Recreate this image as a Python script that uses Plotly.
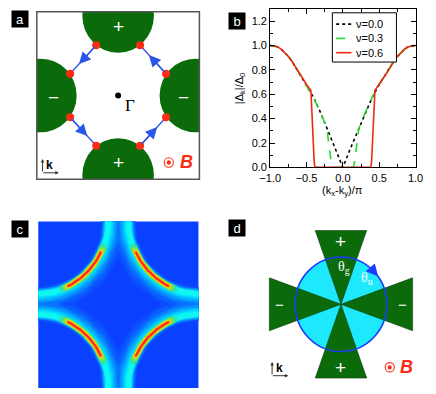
import numpy as np
import plotly.graph_objects as go

W, H = 436, 394


def px(x):
    return x / W


def py(y):
    return 1 - y / H


FONT = "Liberation Sans, Arial, sans-serif"
SERIF = "Liberation Serif, Times New Roman, serif"
GREEN = "#0b6b0b"
RED = "#ff2a14"
BLUE_ARROW = "#2a55e6"

# ---------------- panel a : gap signs on the Fermi pockets ----------------
pocket_cx = [0.0, 0.0, -0.95, 0.95]
pocket_cy = [0.95, -0.95, 0.0, 0.0]
pocket_r = 0.44
pocket_sign = ["+", "+", "\u2212", "\u2212"]
sign_x = [0.0, 0.0, -0.80, 0.81]
sign_y = [0.82, -0.80, -0.02, -0.02]
node_x = [-0.27, 0.27, -0.59, 0.59, -0.59, 0.59, -0.27, 0.27]
node_y = [0.60, 0.60, 0.26, 0.26, -0.26, -0.26, -0.60, -0.60]
flow_from = [0, 3, 4, 7]
flow_to = [2, 1, 6, 5]
gamma_x, gamma_y = [0.0], [0.0]

# ---------------- panel b : gap magnitude ----------------
nu0_x = [-1.0, -0.95, -0.9, -0.85, -0.8, -0.75, -0.7, -0.65, -0.6, -0.55, -0.5, -0.4, -0.3, -0.2, -0.1, 0.0,
         0.1, 0.2, 0.3, 0.4, 0.5, 0.55, 0.6, 0.65, 0.7, 0.75, 0.8, 0.85, 0.9, 0.95, 1.0]
nu0_y = [1.0, 0.997, 0.99, 0.97, 0.94, 0.91, 0.87, 0.82, 0.77, 0.73, 0.68, 0.57, 0.44, 0.29, 0.15, 0.0,
         0.15, 0.29, 0.44, 0.57, 0.68, 0.73, 0.77, 0.82, 0.87, 0.91, 0.94, 0.97, 0.99, 0.997, 1.0]
nu3_x = [-1.0, -0.95, -0.9, -0.85, -0.8, -0.75, -0.7, -0.65, -0.6, -0.55, -0.5, -0.4, -0.3, -0.22, -0.2, -0.18,
         -0.16, -0.145, 0.145, 0.16, 0.18, 0.2, 0.22, 0.3, 0.4, 0.5, 0.55, 0.6, 0.65, 0.7, 0.75, 0.8, 0.85,
         0.9, 0.95, 1.0]
nu3_y = [1.0, 0.997, 0.99, 0.97, 0.94, 0.91, 0.87, 0.82, 0.77, 0.73, 0.68, 0.57, 0.44, 0.32, 0.22, 0.12,
         0.04, 0.0, 0.0, 0.04, 0.12, 0.22, 0.32, 0.44, 0.57, 0.68, 0.73, 0.77, 0.82, 0.87, 0.91, 0.94, 0.97,
         0.99, 0.997, 1.0]
nu6_x = [-1.0, -0.95, -0.9, -0.85, -0.8, -0.75, -0.7, -0.65, -0.6, -0.55, -0.5, -0.44, -0.435, -0.425, -0.41,
         -0.395, -0.385, 0.385, 0.395, 0.41, 0.425, 0.435, 0.44, 0.5, 0.55, 0.6, 0.65, 0.7, 0.75, 0.8, 0.85,
         0.9, 0.95, 1.0]
nu6_y = [1.0, 0.997, 0.99, 0.97, 0.94, 0.91, 0.87, 0.82, 0.77, 0.73, 0.68, 0.63, 0.55, 0.40, 0.20,
         0.05, 0.0, 0.0, 0.05, 0.20, 0.40, 0.55, 0.63, 0.68, 0.73, 0.77, 0.82, 0.87, 0.91, 0.94, 0.97,
         0.99, 0.997, 1.0]
legend_labels = ["\u03bd=0.0", "\u03bd=0.3", "\u03bd=0.6"]
x_ticks = [-1.0, -0.5, 0.0, 0.5, 1.0]
y_ticks = [0.0, 0.2, 0.4, 0.6, 0.8, 1.0, 1.2]
x_title = "(k<sub>x</sub>-k<sub>y</sub>)/\u03c0"
y_title = "|\u0394<sub>k</sub>|/\u0394<sub>0</sub>"

# ---------------- panel c : spectral weight ----------------
fs_corner_x = [-1, 1, -1, 1]
fs_corner_y = [1, 1, -1, -1]
fs_r = 0.866
arc_start, arc_end = 25, 65   # degrees, bright (gapless) arc

# ---------------- panel d : schematic ----------------
wedge_dirs = [90, 270, 180, 0]
wedge_len = 1.56
wedge_half = 0.56
wedge_sign = ["+", "+", "\u2212", "\u2212"]
wedge_sign_pos = 1.33
theta_labels = ["\u03b8<sub>g</sub>", "\u03b8<sub>u</sub>"]
theta_x = [0.06, 0.56]
theta_y = [0.78, 0.55]
arrow_tip_deg, arrow_tail_deg = 36, 47

fig = go.Figure()
shapes = []
ann = []

# ======== panel a ========
for cx, cy in zip(pocket_cx, pocket_cy):
    shapes.append(dict(type="circle", xref="x", yref="y", x0=cx - pocket_r, x1=cx + pocket_r,
                       y0=cy - pocket_r, y1=cy + pocket_r, fillcolor=GREEN, line=dict(width=0),
                       layer="below"))
shapes.append(dict(type="rect", xref="x domain", yref="y domain", x0=0, x1=1, y0=0, y1=1,
                   line=dict(color="#555", width=1.5)))
for s, sx, sy in zip(pocket_sign, sign_x, sign_y):
    ann.append(dict(x=sx, y=sy, xref="x", yref="y", text=s, showarrow=False,
                    font=dict(family=FONT, size=19, color="white")))
for i, j in zip(flow_from, flow_to):
    x0, y0, x1, y1 = node_x[i], node_y[i], node_x[j], node_y[j]
    fig.add_trace(go.Scatter(x=[x0, x1], y=[y0, y1], mode="lines", xaxis="x", yaxis="y",
                             line=dict(color=BLUE_ARROW, width=1.3), showlegend=False, hoverinfo="skip"))
    f = 0.66
    ann.append(dict(x=x0 + f * (x1 - x0), y=y0 + f * (y1 - y0), ax=x0, ay=y0, xref="x", yref="y",
                    axref="x", ayref="y", text="", showarrow=True, arrowhead=2, arrowsize=1.8,
                    arrowwidth=1.3, arrowcolor=BLUE_ARROW, standoff=0))
fig.add_trace(go.Scatter(x=node_x, y=node_y, mode="markers", xaxis="x", yaxis="y",
                         marker=dict(size=8, color=RED), showlegend=False, hoverinfo="skip"))
fig.add_trace(go.Scatter(x=gamma_x, y=gamma_y, mode="markers", xaxis="x", yaxis="y",
                         marker=dict(size=6, color="black"), showlegend=False, hoverinfo="skip"))
ann.append(dict(x=0.14, y=-0.12, xref="x", yref="y", text="\u0393", showarrow=False,
                font=dict(family=SERIF, size=17, color="black")))

# ======== panel b ========
fig.add_trace(go.Scatter(x=nu0_x, y=nu0_y, mode="lines", xaxis="x2", yaxis="y2", name=legend_labels[0],
                         line=dict(color="black", width=1.6, dash="dot"), showlegend=False))
fig.add_trace(go.Scatter(x=nu3_x, y=nu3_y, mode="lines", xaxis="x2", yaxis="y2", name=legend_labels[1],
                         line=dict(color="#22dd22", width=1.6, dash="dash"), showlegend=False))
fig.add_trace(go.Scatter(x=nu6_x, y=nu6_y, mode="lines", xaxis="x2", yaxis="y2", name=legend_labels[2],
                         line=dict(color="#ee2a10", width=1.6), showlegend=False))
shapes.append(dict(type="rect", xref="paper", yref="paper", x0=px(336), x1=px(403), y0=py(63), y1=py(13),
                   line=dict(color="black", width=1), fillcolor="white"))
leg_styles = [("black", "dot"), ("#22dd22", "dash"), ("#ee2a10", "solid")]
for k, (lab, (c, d)) in enumerate(zip(legend_labels, leg_styles)):
    yy = 24.5 + 14.5 * k
    shapes.append(dict(type="line", xref="paper", yref="paper", x0=px(340), x1=px(356), y0=py(yy), y1=py(yy),
                       line=dict(color=c, width=1.6, dash=d)))
    ann.append(dict(x=px(359), y=py(yy), xref="paper", yref="paper", text=lab, showarrow=False,
                    xanchor="left", yanchor="middle", font=dict(family=FONT, size=11, color="black")))
ann.append(dict(x=px(347), y=py(194), xref="paper", yref="paper", text=x_title, showarrow=False,
                xanchor="center", yanchor="middle", font=dict(family=FONT, size=11, color="black")))
ann.append(dict(x=px(239), y=py(90), xref="paper", yref="paper", text=y_title, showarrow=False,
                textangle=-90, xanchor="center", yanchor="middle",
                font=dict(family=FONT, size=11, color="black")))

# ======== panel c ========
shapes.append(dict(type="rect", xref="x3 domain", yref="y3 domain", x0=0, x1=1, y0=0, y1=1,
                   fillcolor="#0a40ff", line=dict(width=0), layer="below"))
PXU = 167.5 / 2.0   # pixels per data unit in panel c
# (half-width px, outward offset px, colour, t0, t1, round ends)
glow_layers = [(12.5, 7.5, "#0a4cff", -5, 95, False), (10.5, 6, "#0a5cff", -5, 95, False),
               (8.5, 4.6, "#0874ff", -5, 95, False), (7, 3.6, "#0692ff", -5, 95, False),
               (5.6, 2.7, "#04b0ff", -5, 95, False), (4.4, 2, "#02ccff", -5, 95, False),
               (3.4, 1.4, "#00e4ff", -5, 95, False), (2.5, 0.8, "#12f6f2", -5, 95, False),
               (3.7, 0.3, "#3ce08a", 21, 69, True), (2.9, 0.2, "#a6e032", 23.5, 66.5, True),
               (2.2, 0.1, "#ffd400", arc_start, arc_end, True),
               (1.3, 0.0, "#ff3020", arc_start + 0.5, arc_end - 0.5, True)]
for hw, off, col, t0, t1, rnd in glow_layers:
    t = np.radians(np.linspace(t0, t1, 90))
    rr = fs_r + off / PXU
    sizes = [0] * len(t)
    if rnd:
        sizes[0] = sizes[-1] = 2 * hw
    for cx, cy in zip(fs_corner_x, fs_corner_y):
        xs = cx - cx * rr * np.cos(t)
        ys = cy - cy * rr * np.sin(t)
        fig.add_trace(go.Scatter(x=xs, y=ys, mode="lines+markers" if rnd else "lines", xaxis="x3", yaxis="y3",
                                 line=dict(color=col, width=2 * hw),
                                 marker=dict(size=sizes, color=col, line=dict(width=0)),
                                 showlegend=False, hoverinfo="skip"))

# ======== panel d ========
shapes.append(dict(type="circle", xref="x4", yref="y4", x0=-1, x1=1, y0=-1, y1=1,
                   fillcolor="#1ee8fc", line=dict(width=0)))
for ang in wedge_dirs:
    a = np.radians(ang)
    ux, uy = np.cos(a), np.sin(a)
    vx, vy = -uy, ux
    p1 = (ux * wedge_len + vx * wedge_half, uy * wedge_len + vy * wedge_half)
    p2 = (ux * wedge_len - vx * wedge_half, uy * wedge_len - vy * wedge_half)
    path = f"M 0 0 L {p1[0]:.4f} {p1[1]:.4f} L {p2[0]:.4f} {p2[1]:.4f} Z"
    shapes.append(dict(type="path", xref="x4", yref="y4", path=path, fillcolor=GREEN,
                       line=dict(color="#0a3a0a", width=0.6)))
shapes.append(dict(type="circle", xref="x4", yref="y4", x0=-1, x1=1, y0=-1, y1=1,
                   line=dict(color="#1a3cff", width=1.6)))
for s, ang in zip(wedge_sign, wedge_dirs):
    a = np.radians(ang)
    ann.append(dict(x=wedge_sign_pos * np.cos(a), y=wedge_sign_pos * np.sin(a), xref="x4", yref="y4", text=s,
                    showarrow=False, font=dict(family=FONT, size=19 if s == "+" else 15, color="white")))
for lab, tx, ty in zip(theta_labels, theta_x, theta_y):
    ann.append(dict(x=tx, y=ty, xref="x4", yref="y4", text=lab, showarrow=False,
                    font=dict(family=SERIF, size=14, color="white")))
ta, tb = np.radians(arrow_tip_deg), np.radians(arrow_tail_deg)
ann.append(dict(x=np.cos(ta), y=np.sin(ta), ax=np.cos(tb), ay=np.sin(tb), xref="x4", yref="y4",
                axref="x4", ayref="y4", text="", showarrow=True, arrowhead=2, arrowsize=1.5,
                arrowwidth=1.6, arrowcolor="#1a3cff", standoff=0))

# ======== panel labels, k icons, B symbols ========
for lab, (x0, y0) in zip(["a", "b", "c", "d"], [(9, 19.5), (236.5, 21.5), (9, 232.5), (236.5, 232)]):
    ann.append(dict(x=px(x0), y=py(y0), xref="paper", yref="paper", text=lab, showarrow=False,
                    xanchor="center", yanchor="middle",
                    bgcolor="black", width=14, height=14, font=dict(family=FONT, size=13, color="white"),
                    borderpad=1))

for (kx, ky), (bx, by) in [((33, 175.5), (165, 165)), ((273, 381.5), (396, 373))]:
    ann.append(dict(x=px(kx), y=py(ky - 14), ax=0, ay=14, xref="paper", yref="paper",
                    axref="pixel", ayref="pixel", text="", showarrow=True, arrowhead=2, arrowsize=0.7,
                    arrowwidth=1, arrowcolor="#333", standoff=0))
    ann.append(dict(x=px(kx + 17), y=py(ky), ax=-17, ay=0, xref="paper", yref="paper",
                    axref="pixel", ayref="pixel", text="", showarrow=True, arrowhead=2, arrowsize=0.7,
                    arrowwidth=1, arrowcolor="#333", standoff=0))
    ann.append(dict(x=px(kx + 7.5), y=py(ky - 7.5), xref="paper", yref="paper", text="<b>k</b>",
                    xanchor="center", yanchor="middle",
                    showarrow=False, font=dict(family=FONT, size=12, color="black")))
    shapes.append(dict(type="circle", xref="paper", yref="paper", x0=px(bx - 4.8), x1=px(bx + 4.8),
                       y0=py(by + 4.8), y1=py(by - 4.8), line=dict(color=RED, width=1.1)))
    shapes.append(dict(type="circle", xref="paper", yref="paper", x0=px(bx - 2.2), x1=px(bx + 2.2),
                       y0=py(by + 2.2), y1=py(by - 2.2), fillcolor=RED, line=dict(width=0)))
    ann.append(dict(x=px(bx + 18), y=py(by), xref="paper", yref="paper", text="<b><i>B</i></b>",
                    xanchor="center", yanchor="middle",
                    showarrow=False, font=dict(family=FONT, size=18, color=RED)))

hidden = dict(visible=False, showgrid=False, zeroline=False)
fig.update_layout(
    width=W, height=H, margin=dict(l=0, r=0, t=0, b=0),
    paper_bgcolor="white", plot_bgcolor="white",
    font=dict(family=FONT, size=11, color="black"),
    showlegend=False,
    xaxis=dict(domain=[px(27), px(197)], range=[-1, 1], anchor="y", **hidden),
    yaxis=dict(domain=[py(182), py(12)], range=[-1, 1], anchor="x", **hidden),
    xaxis2=dict(domain=[px(271), px(423)], range=[-1, 1], anchor="y2", tickvals=x_ticks, tickformat=".1f",
                ticks="inside", ticklen=5, tickcolor="black", showline=True, linecolor="black",
                linewidth=1, mirror="allticks", showgrid=False, zeroline=False,
                minor=dict(dtick=0.25, tick0=0, ticks="inside", ticklen=3, tickcolor="black"),
                tickfont=dict(size=11)),
    yaxis2=dict(domain=[py(170), py(9)], range=[0, 1.3], anchor="x2", tickvals=y_ticks, tickformat=".1f",
                ticks="inside", ticklen=5, tickcolor="black", showline=True, linecolor="black",
                linewidth=1, mirror="allticks", showgrid=False, zeroline=False,
                minor=dict(dtick=0.1, tick0=0, ticks="inside", ticklen=3, tickcolor="black"),
                tickfont=dict(size=11)),
    xaxis3=dict(domain=[px(28.5), px(196)], range=[-1, 1], anchor="y3", **hidden),
    yaxis3=dict(domain=[0, py(225)], range=[1 - 2 * 169 / 167.5, 1], anchor="x3", **hidden),
    xaxis4=dict(domain=[px(261), px(429)], range=[-1.75, 1.75], anchor="y4", **hidden),
    yaxis4=dict(domain=[py(393), py(225)], range=[-1.75, 1.75], anchor="x4", **hidden),
    shapes=shapes, annotations=ann,
)

fig.write_html("out.html", config={"displayModeBar": False},
               post_script="document.body.style.margin='0';document.body.style.overflow='hidden';")
